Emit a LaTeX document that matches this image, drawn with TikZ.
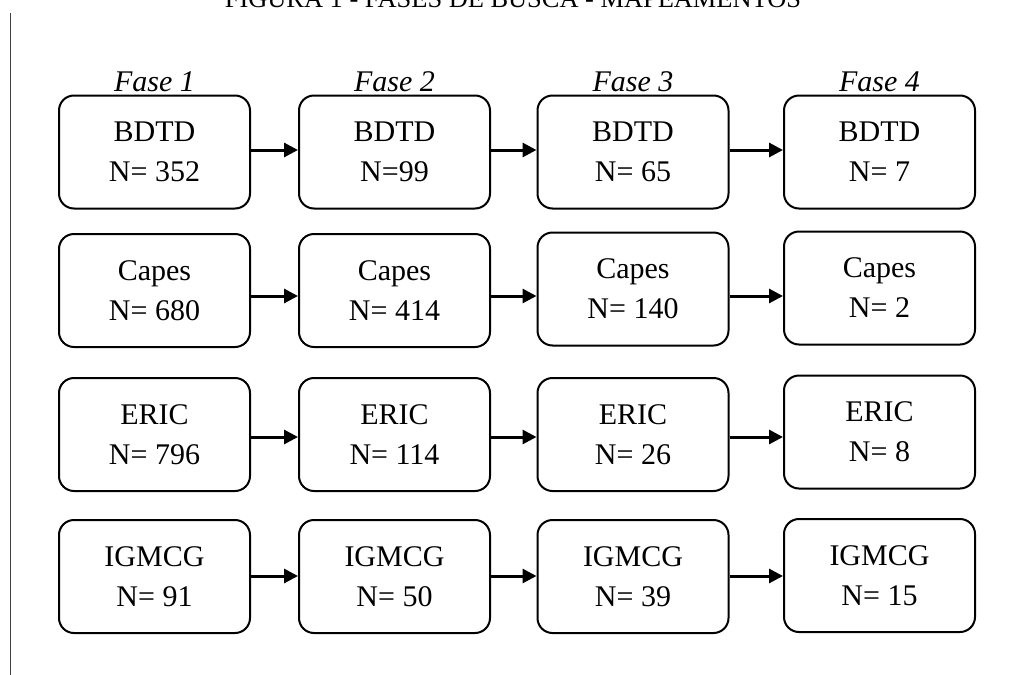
\documentclass[tikz,border=0pt]{standalone}
\usepackage{fontspec}
\setmainfont{Liberation Serif}
\usetikzlibrary{arrows.meta}
\begin{document}
\begin{tikzpicture}[x=1pt,y=-1pt,
  box/.style={draw, line width=2pt, rounded corners=15pt, minimum width=191pt, minimum height=113pt, inner sep=0pt, align=center, font=\fontsize{30}{40}\selectfont},
  arr/.style={line width=3pt, -{Triangle[length=14pt,width=14pt]}},
  fase/.style={font=\fontsize{30}{36}\selectfont\itshape, anchor=base, inner sep=0pt},
  ttl/.style={font=\fontsize{26.4}{30}\selectfont, anchor=base, inner sep=0pt}]
\useasboundingbox (0,0) rectangle (1013,675);
% title (cut at top, as in the source)
\node[ttl] (title) at (513,7.5) {FIGURA 1 - FASES DE BUSCA - MAPEAMENTOS};
% left margin line
\coordinate (lt) at (10,13);
\coordinate (lb) at (10,675);
\draw[line width=1pt, black!75] (lt) -- (lb);
% phase labels
\node[fase] (f1) at (154.5,91) {Fase 1};
\node[fase] (f2) at (394.5,91) {Fase 2};
\node[fase] (f3) at (633,91) {Fase 3};
\node[fase] (f4) at (879.5,91) {Fase 4};
% row 1
\node[box] (b1) at (154.5,152) {BDTD\\N= 352};
\node[box] (b2) at (394.5,152) {BDTD\\N=99};
\node[box] (b3) at (633,152) {BDTD\\N= 65};
\node[box] (b4) at (879.5,152) {BDTD\\N= 7};
% row 2
\node[box] (c1) at (154.5,290.5) {Capes\\N= 680};
\node[box] (c2) at (394.5,290.5) {Capes\\N= 414};
\node[box] (c3) at (633,289) {Capes\\N= 140};
\node[box] (c4) at (879.5,288) {Capes\\N= 2};
% row 3
\node[box] (e1) at (154.5,434.5) {ERIC\\N= 796};
\node[box] (e2) at (394.5,434.5) {ERIC\\N= 114};
\node[box] (e3) at (633,434.5) {ERIC\\N= 26};
\node[box] (e4) at (879.5,432) {ERIC\\N= 8};
% row 4
\node[box] (i1) at (154.5,576.5) {IGMCG\\N= 91};
\node[box] (i2) at (394.5,576.5) {IGMCG\\N= 50};
\node[box] (i3) at (633,576.5) {IGMCG\\N= 39};
\node[box] (i4) at (879.5,575.5) {IGMCG\\N= 15};
% arrows (horizontal)
\draw[arr] (b1.east |- 0,150) -- (b2.west |- 0,150);
\draw[arr] (b2.east |- 0,150) -- (b3.west |- 0,150);
\draw[arr] (b3.east |- 0,150) -- (b4.west |- 0,150);
\draw[arr] (c1.east |- 0,296) -- (c2.west |- 0,296);
\draw[arr] (c2.east |- 0,296) -- (c3.west |- 0,296);
\draw[arr] (c3.east |- 0,296) -- (c4.west |- 0,296);
\draw[arr] (e1.east |- 0,437) -- (e2.west |- 0,437);
\draw[arr] (e2.east |- 0,437) -- (e3.west |- 0,437);
\draw[arr] (e3.east |- 0,437) -- (e4.west |- 0,437);
\draw[arr] (i1.east |- 0,576) -- (i2.west |- 0,576);
\draw[arr] (i2.east |- 0,576) -- (i3.west |- 0,576);
\draw[arr] (i3.east |- 0,576) -- (i4.west |- 0,576);
\end{tikzpicture}
\end{document}
